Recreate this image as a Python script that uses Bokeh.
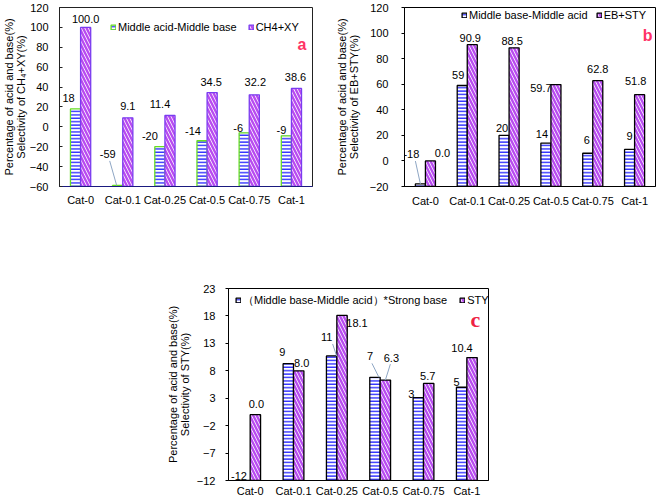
from bokeh.plotting import figure
from bokeh.models import (FactorRange, Range1d, FixedTicker, Legend, LegendItem,
                          Label, ColumnDataSource, Spacer)
from bokeh.transform import dodge
from bokeh.layouts import column, row
from bokeh.embed import file_html
from bokeh.resources import INLINE
from bokeh.core.properties import value

# ---------------- data ----------------
categories = ["Cat-0", "Cat-0.1", "Cat-0.25", "Cat-0.5", "Cat-0.75", "Cat-1"]

a_acid_minus_base = [18, -59, -20, -14, -6, -9]
a_ch4_xy = [100.0, 9.1, 11.4, 34.5, 32.2, 38.6]

b_base_minus_acid = [-18, 59, 20, 14, 6, 9]
b_eb_sty = [0.0, 90.9, 88.5, 59.7, 62.8, 51.8]

c_base_acid_strong = [-12, 9.3, 10.7, 6.8, 3.1, 5.0]
c_sty = [0.0, 8.0, 18.1, 6.3, 5.7, 10.4]

a_ticks = [-60, -40, -20, 0, 20, 40, 60, 80, 100, 120]
b_ticks = [-20, 0, 20, 40, 60, 80, 100, 120]
c_ticks = [-12, -7, -2, 3, 8, 13, 18, 23]

# label pixel offsets (dx right, dy up) relative to bar top centre
a_s1_off = [(-7, 11), (-10, 32), (-10, 11), (-9, 10), (-6, 5), (-5, 6)]
a_s2_off = [(0, 8), (0, 12), (-10, 11), (-1, 11), (1, 13), (-1, 11)]
b_s1_off = [(-9, 30), (-4, 10), (-2, 7), (-4, 9), (-1, 13), (0, 13)]
b_s2_off = [(12, 8), (-2, 7), (-2, 7), (-15, -3), (0, 12), (-4, 14)]
c_s1_off = [(-6, 5), (-6, 12), (-5, 19), (-5, 21), (-7, 4), (-5, 5)]
c_s2_off = [(1, 11), (3, 8), (15, -8), (6, 22), (-1, 7), (-10, 10)]

# leader lines: (series, index, start dx, start dy, end dx)
a_leaders = [(1, 1, -8, 25, -1)]
b_leaders = [(1, 0, -5, 23, 0)]
c_leaders = [(1, 2, 1, 12, 5), (1, 3, -3, 14, 4), (2, 3, 5, 16, 0)]

FONT = "Liberation Sans"
BLUE = "#2f2fff"
PURPLE = "#b84cf0"
BW = 0.24
HALF = 0.12


def make_panel(fig_w, fig_h, border, y_rng, y_ticks, s1_vals, s2_vals,
               s1_name, s2_name, s1_fmt, s2_fmt, s1_off, s2_off, leaders,
               ylabel, letter, letter_xy, letter_font, letter_size, letter_color,
               s1_line, s2_line, axis_color, bottom_color, tick_in, tick_out,
               tick_standoff, axlabel_standoff, legend_xy, legend_spacing,
               xlabel_standoff):
    l, r, t, b = border
    frame_w = fig_w - l - r
    frame_h = fig_h - t - b
    p = figure(width=fig_w, height=fig_h, x_range=FactorRange(factors=categories),
               y_range=Range1d(*y_rng), output_backend="svg", toolbar_location=None,
               min_border_left=l, min_border_right=r, min_border_top=t,
               min_border_bottom=b, sizing_mode="fixed")
    p.background_fill_color = "white"
    p.border_fill_color = "white"
    p.outline_line_color = axis_color
    p.outline_line_width = 1
    p.xgrid.visible = False
    p.ygrid.visible = False

    src = ColumnDataSource(dict(
        cat=categories, s1=s1_vals, s2=s2_vals,
        s1_txt=[s1_fmt.format(v) for v in s1_vals],
        s2_txt=[s2_fmt.format(v) for v in s2_vals],
        s1_dx=[o[0] for o in s1_off], s1_dy=[-o[1] for o in s1_off],
        s2_dx=[o[0] for o in s2_off], s2_dy=[-o[1] for o in s2_off],
    ))

    r1 = p.vbar(x=dodge("cat", -HALF, range=p.x_range), top="s1", bottom=y_rng[0],
                width=BW, source=src, fill_color="white", hatch_pattern="-",
                hatch_color=BLUE, hatch_scale=3.4, hatch_weight=1.4,
                line_color=s1_line, line_width=1.3)
    r2 = p.vbar(x=dodge("cat", HALF, range=p.x_range), top="s2", bottom=y_rng[0],
                width=BW, source=src, fill_color="white", hatch_pattern="\\",
                hatch_color=PURPLE, hatch_scale=7, hatch_weight=2.4,
                line_color=s2_line, line_width=1.3)

    # leader lines
    xpx = frame_w / len(categories)
    ypx = frame_h / (y_rng[1] - y_rng[0])
    lx0, ly0, lx1, ly1 = [], [], [], []
    for ser, i, sdx, sdy, edx in leaders:
        v = s1_vals[i] if ser == 1 else s2_vals[i]
        cx = i + 0.5 + (-HALF if ser == 1 else HALF)
        lx0.append(cx + sdx / xpx)
        ly0.append(v + sdy / ypx)
        lx1.append(cx + edx / xpx)
        ly1.append(v)
    if leaders:
        p.segment(x0=lx0, y0=ly0, x1=lx1, y1=ly1, line_color="#8ea6c4", line_width=1)

    for key, off in (("s1", -HALF), ("s2", HALF)):
        p.text(x=dodge("cat", off, range=p.x_range), y=key, text=key + "_txt",
               x_offset=key + "_dx", y_offset=key + "_dy", source=src,
               text_align="center", text_baseline="middle",
               text_font=value(FONT), text_font_size="11px", text_color="black")

    # axes
    ya = p.yaxis[0]
    ya.ticker = FixedTicker(ticks=y_ticks)
    ya.minor_tick_line_color = None
    ya.major_tick_in = tick_in
    ya.major_tick_out = tick_out
    ya.major_tick_line_color = axis_color
    ya.axis_line_color = axis_color
    ya.major_label_standoff = tick_standoff
    ya.major_label_text_font = FONT
    ya.major_label_text_font_size = "11px"
    ya.major_label_text_color = "black"
    ya.axis_label = ylabel
    ya.axis_label_text_font = FONT
    ya.axis_label_text_font_size = "11px"
    ya.axis_label_text_font_style = "normal"
    ya.axis_label_text_color = "black"
    ya.axis_label_text_line_height = 0.95
    ya.axis_label_standoff = axlabel_standoff

    xa = p.xaxis[0]
    xa.major_tick_in = 0
    xa.major_tick_out = 0
    xa.axis_line_color = bottom_color
    xa.major_label_standoff = xlabel_standoff
    xa.major_label_text_font = FONT
    xa.major_label_text_font_size = "11px"
    xa.major_label_text_color = "black"

    legend = Legend(items=[LegendItem(label=s1_name, renderers=[r1]),
                           LegendItem(label=s2_name, renderers=[r2])],
                    location=legend_xy, orientation="horizontal",
                    glyph_width=6, glyph_height=6, label_standoff=2,
                    spacing=legend_spacing, padding=0, margin=0,
                    label_height=13, label_width=10,
                    border_line_alpha=0, background_fill_alpha=0,
                    label_text_font=FONT, label_text_font_size="11px",
                    label_text_color="black")
    p.add_layout(legend)

    p.add_layout(Label(x=letter_xy[0], y=letter_xy[1], text=letter,
                       text_font=letter_font, text_font_size=letter_size,
                       text_font_style="bold", text_color=letter_color,
                       text_align="center", text_baseline="middle"))
    return p


pa = make_panel(330, 215, (59, 18, 7, 26), (-60, 120), a_ticks,
                a_acid_minus_base, a_ch4_xy, "Middle acid-Middle base", "CH4+XY",
                "{:.0f}", "{:.1f}", a_s1_off, a_s2_off, a_leaders,
                "Percentage of acid and base(%)\nSelectivity of CH\u2084+XY(%)",
                "a", (5.75, 82.4), FONT, "16px", "#ff3366",
                "#66dd22", "#7a3cf0", "#222222", "#1a1a80", 3, 0, 11, 0,
                (51, 152.5), 11, 7)

pb = make_panel(331, 215, (74, 6, 6, 29), (-20, 120), b_ticks,
                b_base_minus_acid, b_eb_sty, "Middle base-Middle acid", "EB+STY",
                "{:.0f}", "{:.1f}", b_s1_off, b_s2_off, b_leaders,
                "Percentage of acid and base(%)\nSelectivity of EB+STY(%)",
                "b", (5.81, 98.2), FONT, "16px", "#ff3366",
                "black", "black", "black", "black", 0, 3, 13, 7,
                (57, 164.5), 8, 8)

pc = make_panel(360, 284, (88, 12, 73, 19), (-12, 23), c_ticks,
                c_base_acid_strong, c_sty, "\uff08Middle base-Middle acid\uff09*Strong base", "STY",
                "{:.0f}", "{:.1f}", c_s1_off, c_s2_off, c_leaders,
                "Percentage of acid and base(%)\nSelectivity of STY(%)",
                "c", (5.70, 17.35), "Liberation Serif", "22px", "#ee2244",
                "black", "black", "black", "black", 0, 3, 10, 3,
                (7, 172.5), 12, 4)

row1 = row(pa, pb, width=661, height=215, sizing_mode="fixed")
row2 = row(Spacer(width=140, height=284), pc, width=500, height=284, sizing_mode="fixed")
layout = column(row1, row2, width=661, height=499, sizing_mode="fixed")

open("out.html", "w").write(file_html(layout, INLINE))
